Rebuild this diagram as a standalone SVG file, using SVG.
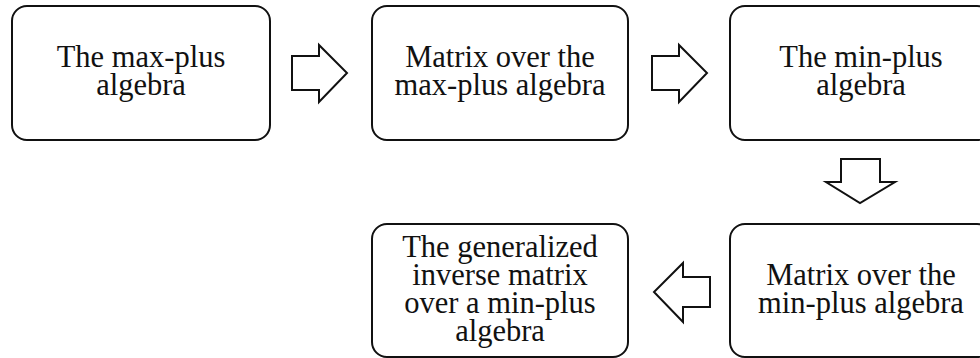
<svg xmlns="http://www.w3.org/2000/svg" width="980" height="358" viewBox="0 0 980 358">
<style>
.box{fill:#fff;stroke:#111;stroke-width:2}
.arr{fill:#fff;stroke:#111;stroke-width:2;stroke-linejoin:miter}
text{font-family:"Liberation Serif","Times New Roman",serif;font-size:30.5px;fill:#111;text-anchor:middle}
</style>
<rect width="980" height="358" fill="#fff"/>
<g id="n1"><rect class="box" x="12" y="6" width="258" height="134" rx="15"/><text x="141" y="67">The max-plus</text><text x="141" y="95">algebra</text></g>
<g id="n2"><rect class="box" x="372" y="6" width="256" height="134" rx="15"/><text x="500" y="67">Matrix over the</text><text x="500" y="95">max-plus algebra</text></g>
<g id="n3"><rect class="box" x="730" y="6" width="262" height="134" rx="15"/><text x="861" y="67">The min-plus</text><text x="861" y="95">algebra</text></g>
<g id="n4"><rect class="box" x="730" y="224" width="262" height="133" rx="15"/><text x="861" y="285">Matrix over the</text><text x="861" y="313">min-plus algebra</text></g>
<g id="n5"><rect class="box" x="372" y="224" width="256" height="133" rx="15"/><text x="500" y="257">The generalized</text><text x="500" y="285">inverse matrix</text><text x="500" y="313">over a min-plus</text><text x="500" y="341">algebra</text></g>
<g id="connectors">
<polygon class="arr" points="292,56 319,56 319,45 347,73 319,102 319,90 292,90"/>
<polygon class="arr" points="652,56 679,56 679,45 707,73 679,102 679,90 652,90"/>
<polygon class="arr" points="841,159 880,159 880,182 895,182 860,203 826,182 841,182"/>
<polygon class="arr" points="710,277 683,277 683,263 654,292 683,322 683,307 710,307"/>
</g>
</svg>
